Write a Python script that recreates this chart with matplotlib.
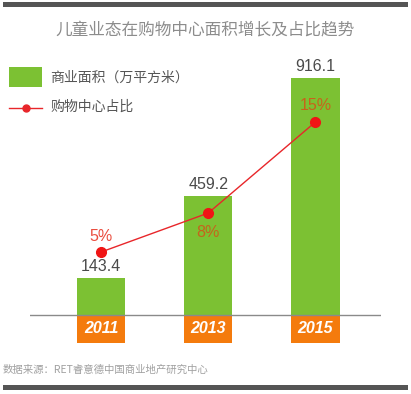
import numpy as np
import matplotlib
matplotlib.use("Agg")
from matplotlib import pyplot as plt
from matplotlib.patches import Rectangle
from matplotlib.lines import Line2D

plt.rcParams['font.family'] = ['Liberation Sans', 'Noto Sans CJK SC', 'DejaVu Sans']

# data
years = ['2011', '2013', '2015']
area = [143.4, 459.2, 916.1]          # 万平方米
share = [5, 8, 15]                    # %
share_labels = ['5%', '8%', '15%']

W, H = 411, 394
fig = plt.figure(figsize=(W / 100, H / 100), dpi=100)

def fx(px):
    return px / W

def fy(py):
    return 1 - py / H

# frame bars top / bottom
for y0, y1 in [(2, 7), (385, 390)]:
    fig.add_artist(Rectangle((fx(3), fy(y1)), fx(405), (y1 - y0) / H,
                             transform=fig.transFigure, color='#555555', lw=0))

fig.text(0.5, fy(30), '儿童业态在购物中心面积增长及占比趋势', ha='center', va='center',
         fontsize=12, color='#8c8c8c', family=['Noto Sans CJK SC', 'DejaVu Sans'])

# main axes: x from 30px to 381px, y from 60px to 343px
ax = fig.add_axes([fx(30), fy(343), fx(351), 283 / H])
x = np.arange(len(years))
ax.set_xlim(-0.664, 2.612)
ax.set_ylim(-108.2, 985.7)
ax.axis('off')

green = '#7cc133'
orange = '#f47b0d'
ax.bar(x, [-108.2] * len(x), width=0.45, color=orange, lw=0)
ax.bar(x, area, width=0.45, color=green, lw=0)
ax.axhline(0, color='#8a8a8a', lw=1)

for xi, yr in zip(x, years):
    ax.text(xi, -54, yr, ha='center', va='center', color='white', fontsize=11.5,
            fontweight='bold', fontstyle='italic')
for xi, v in zip(x, area):
    ax.text(xi, v + 45, f'{v:.1f}', ha='center', va='center', color='#4a4a4a', fontsize=11.5)

ax2 = ax.twinx()
ax2.set_ylim(-2, 19.77)
ax2.axis('off')
ax2.plot(x, share, color='#e8262a', lw=1, marker='o', ms=7, mfc='#f01515', mec='#f01515')
offs = [1.2, -1.5, 1.3]
cols = ['#ea4d3f', '#c4651c', '#c9621a']
for xi, s, lab, o, c in zip(x, share, share_labels, offs, cols):
    ax2.text(xi, s + o, lab, ha='center', va='center', color=c, fontsize=11.5)

# legend
fig.add_artist(Rectangle((fx(9), fy(87)), fx(33), 20 / H, transform=fig.transFigure,
                         color=green, lw=0))
fig.text(fx(50), fy(78), '商业面积（万平方米）', ha='left', va='center', fontsize=10,
         color='#555555', family=['Noto Sans CJK SC', 'DejaVu Sans'])
fig.add_artist(Line2D([fx(9), fx(42)], [fy(108), fy(108)], transform=fig.transFigure,
                      color='#e8262a', lw=1))
fig.add_artist(Line2D([fx(25.5)], [fy(108)], transform=fig.transFigure, marker='o',
                      ms=5, color='#e8262a'))
fig.text(fx(50), fy(107), '购物中心占比', ha='left', va='center', fontsize=10,
         color='#555555', family=['Noto Sans CJK SC', 'DejaVu Sans'])

fig.text(fx(3), fy(370), '数据来源：RET睿意德中国商业地产研究中心', ha='left', va='center',
         fontsize=7.5, color='#a0a0a0', fontstyle='italic',
         family=['Noto Sans CJK SC', 'DejaVu Sans'])

fig.savefig('out.png', dpi=100)
